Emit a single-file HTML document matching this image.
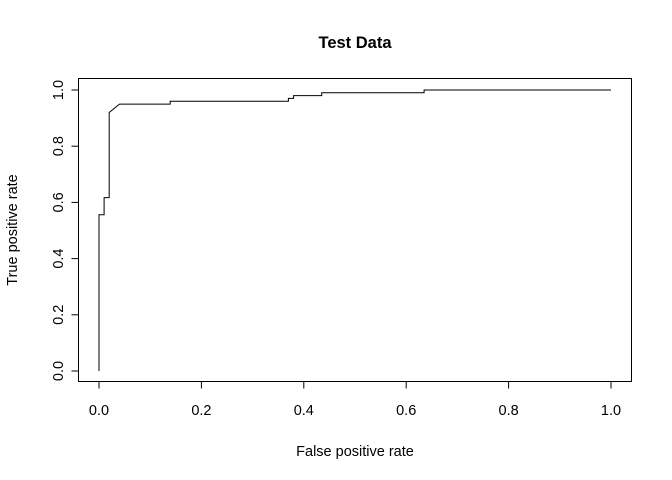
<!DOCTYPE html>
<html><head><meta charset="utf-8"><style>
body{margin:0;background:#fff}
svg{display:block;font-family:"Liberation Sans",Arial,sans-serif}
</style></head><body>
<svg id="chart" width="672" height="480">
<text x="355" y="48" text-anchor="middle" font-size="16.5" font-weight="bold">Test Data</text>
<rect x="78.5" y="78.5" width="553" height="303" fill="none" stroke="#000"/>
<text x="355" y="456" text-anchor="middle" font-size="14.5">False positive rate</text>
<text transform="translate(17,230) rotate(-90)" text-anchor="middle" font-size="14.5">True positive rate</text>
<g id="xaxis"></g>
<g id="yaxis"></g>
<path id="roc" fill="none" stroke="#000" stroke-width="1"/>
</svg>
<script>
const fpr = [0, 0, 0.01, 0.01, 0.02, 0.02, 0.04, 0.139, 0.139, 0.37, 0.37, 0.38, 0.38, 0.435, 0.435, 0.635, 0.635, 1.0];
const tpr = [0, 0.556, 0.556, 0.617, 0.617, 0.92, 0.95, 0.95, 0.96, 0.96, 0.97, 0.97, 0.98, 0.98, 0.99, 0.99, 1.0, 1.0];
const xTicks = ["0.0", "0.2", "0.4", "0.6", "0.8", "1.0"];
const yTicks = ["0.0", "0.2", "0.4", "0.6", "0.8", "1.0"];
const NS = "http://www.w3.org/2000/svg";
const sx = v => 99 + v * 512;
const sy = v => 371 - v * 281;
const xa = document.getElementById('xaxis'), ya = document.getElementById('yaxis');
function mk(tag, attrs, parent) { const e = document.createElementNS(NS, tag); for (const k in attrs) e.setAttribute(k, attrs[k]); parent.appendChild(e); return e; }
mk('line', {x1: sx(0), x2: sx(1), y1: 381.5, y2: 381.5, stroke: '#000'}, xa);
xTicks.forEach(t => {
  const x = sx(parseFloat(t));
  mk('line', {x1: x, x2: x, y1: 381.5, y2: 388.5, stroke: '#000'}, xa);
  const tx = mk('text', {x: x, y: 415, 'text-anchor': 'middle', 'font-size': 14.5}, xa);
  tx.textContent = t;
  
  
});
mk('line', {x1: 78.5, x2: 78.5, y1: sy(0), y2: sy(1), stroke: '#000'}, ya);
yTicks.forEach(t => {
  const y = sy(parseFloat(t));
  mk('line', {x1: 71.5, x2: 78.5, y1: y, y2: y, stroke: '#000'}, ya);
  const tx = mk('text', {transform: `translate(63,${y}) rotate(-90)`, 'text-anchor': 'middle', 'font-size': 14.5}, ya);
  tx.textContent = t;
  
  
});
document.getElementById('roc').setAttribute('d', fpr.map((f, i) => (i ? 'L' : 'M') + sx(f).toFixed(1) + ',' + sy(tpr[i]).toFixed(1)).join(' '));
</script>
</body></html>
